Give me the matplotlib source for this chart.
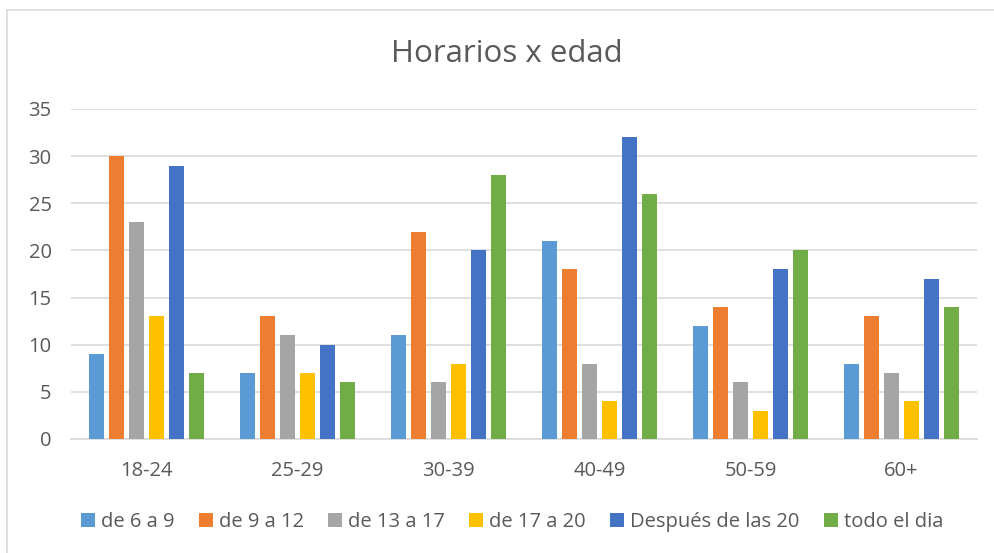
import matplotlib
matplotlib.use("Agg")
import matplotlib.pyplot as plt
import numpy as np
from matplotlib.lines import Line2D

categories = ["18-24", "25-29", "30-39", "40-49", "50-59", "60+"]
series_names = ["de 6 a 9", "de 9 a 12", "de 13 a 17", "de 17 a 20", "Después de las 20", "todo el dia"]
s_6_9 = [9, 7, 11, 21, 12, 8]
s_9_12 = [30, 13, 22, 18, 14, 13]
s_13_17 = [23, 11, 6, 8, 6, 7]
s_17_20 = [13, 7, 8, 4, 3, 4]
s_despues_20 = [29, 10, 20, 32, 18, 17]
s_todo_dia = [7, 6, 28, 26, 20, 14]
series_values = [s_6_9, s_9_12, s_13_17, s_17_20, s_despues_20, s_todo_dia]
colors = ["#5B9BD5", "#ED7D31", "#A5A5A5", "#FFC000", "#4472C4", "#70AD47"]
yticks = [0, 5, 10, 15, 20, 25, 30, 35]

plt.rcParams['font.family'] = ['Open Sans', 'DejaVu Sans']
W, H = 995, 553
fig = plt.figure(figsize=(W/100, H/100), dpi=100)
ax = fig.add_axes([71/W, 1-439/H, (977-71)/W, (439-109)/H])

x = np.arange(len(categories))
bw = 0.103
pitch = 0.1325
n = len(series_values)
for i, (vals, c, name) in enumerate(zip(series_values, colors, series_names)):
    off = (i - (n-1)/2) * pitch
    ax.bar(x + off, vals, width=bw, color=c, label=name, zorder=3)

ax.set_xlim(-0.5, len(categories)-0.5)
ax.set_ylim(0, 35)
ax.set_yticks(yticks)
ax.set_xticks(x)
ax.set_xticklabels(categories)
ax.tick_params(axis='both', length=0, labelsize=14.5, labelcolor='#595959')
ax.tick_params(axis='x', pad=16)
ax.tick_params(axis='y', pad=14)
ax.grid(axis='y', color='#D9D9D9', linewidth=1.2, zorder=0)
for s in ['top', 'right', 'left']:
    ax.spines[s].set_visible(False)
ax.spines['bottom'].set_color('#D9D9D9')
ax.spines['bottom'].set_linewidth(1.2)

fig.text(507/W, 1-54/H, "Horarios x edad", ha='center', va='center', fontsize=22.5, color='#595959')

handles, labels = ax.get_legend_handles_labels()
leg = fig.legend(handles, labels, loc='center', bbox_to_anchor=(512/W, 1-522/H), ncol=6, frameon=False,
                 fontsize=14.5, labelcolor='#595959', handlelength=0.7, handleheight=0.7,
                 handletextpad=0.3, columnspacing=1.2)

# chart border
fig.add_artist(Line2D([7/W, 1], [1-10/H, 1-10/H], color='#D9D9D9', linewidth=1.2))
fig.add_artist(Line2D([7/W, 7/W], [0, 1-10/H], color='#D9D9D9', linewidth=1.2))

fig.savefig("out.png", dpi=100)
